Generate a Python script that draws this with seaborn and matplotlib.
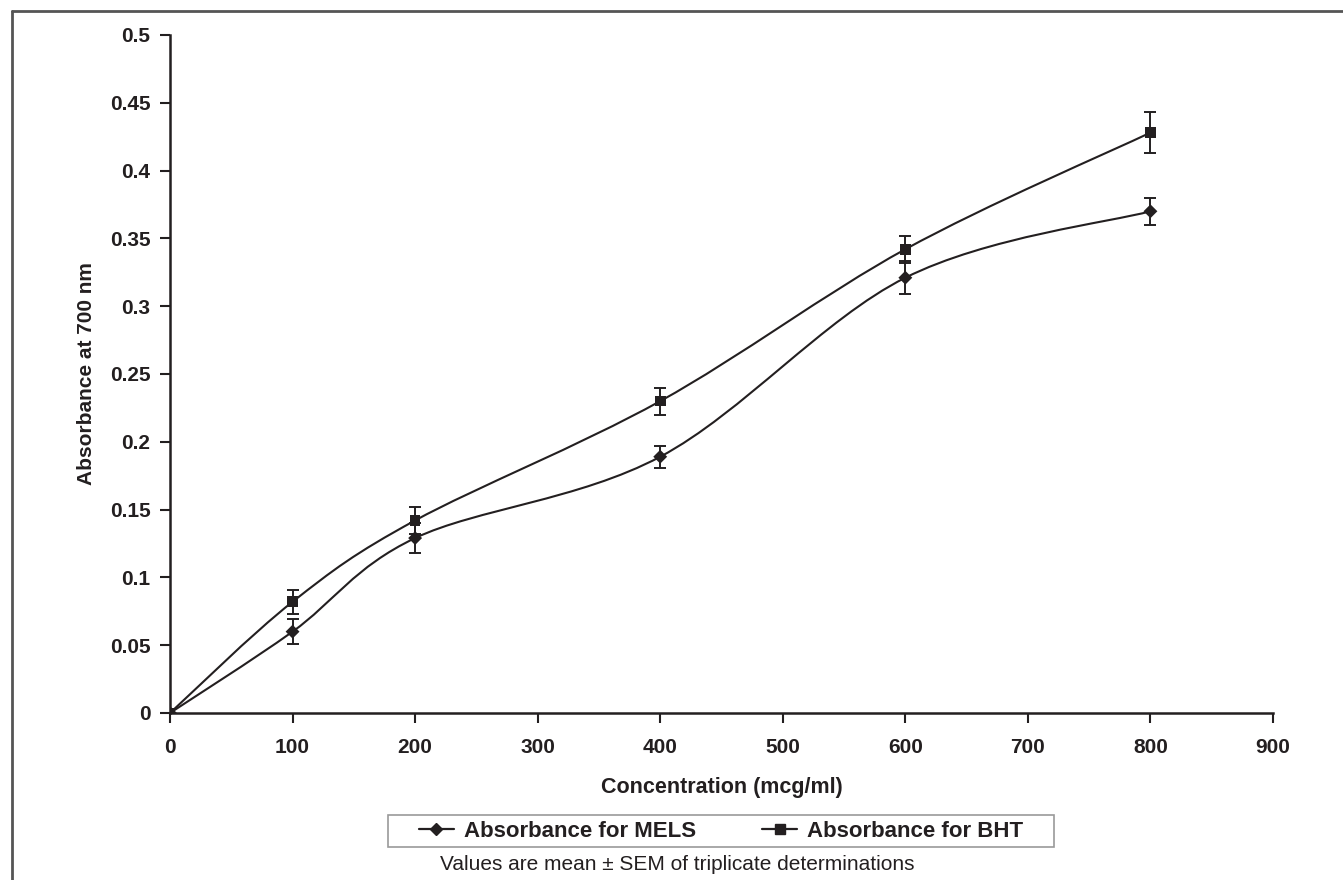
import numpy as np
import pandas as pd
import matplotlib
matplotlib.use("Agg")
import matplotlib.pyplot as plt
from matplotlib.path import Path
from matplotlib.patches import PathPatch, Rectangle
from matplotlib.lines import Line2D
import seaborn as sns

# data
conc = [0, 100, 200, 400, 600, 800]
mels = [0, 0.060, 0.129, 0.189, 0.321, 0.370]
mels_sem = [0, 0.009, 0.011, 0.008, 0.012, 0.010]
bht = [0, 0.082, 0.142, 0.230, 0.342, 0.428]
bht_sem = [0, 0.009, 0.010, 0.010, 0.010, 0.015]

x_ticks = [0, 100, 200, 300, 400, 500, 600, 700, 800, 900]
y_ticks = [0, 0.05, 0.1, 0.15, 0.2, 0.25, 0.3, 0.35, 0.4, 0.45, 0.5]
y_labels = ["0", "0.05", "0.1", "0.15", "0.2", "0.25", "0.3", "0.35", "0.4", "0.45", "0.5"]

sns.set_style("ticks")
plt.rcParams["font.family"] = ["Liberation Sans", "DejaVu Sans"]

INK = "#231f20"
W, H = 1343, 880

df = pd.DataFrame({"conc": conc, "MELS": mels, "BHT": bht})


def smooth_path(xs, ys):
    # Excel-style smoothed line: bezier segments through the points
    pts = np.column_stack([xs, ys]).astype(float)
    n = len(pts)
    verts = [pts[0]]
    codes = [Path.MOVETO]
    for i in range(n - 1):
        p0 = pts[i - 1] if i > 0 else pts[i]
        p1 = pts[i]
        p2 = pts[i + 1]
        p3 = pts[i + 2] if i + 2 < n else pts[i + 1]
        c1 = p1 + (p2 - p0) / 6.0
        c2 = p2 - (p3 - p1) / 6.0
        verts += [c1, c2, p2]
        codes += [Path.CURVE4] * 3
    return Path(verts, codes)


fig = plt.figure(figsize=(W / 100, H / 100), dpi=100)
ax = fig.add_axes([170 / W, 1 - 713 / H, (1273 - 170) / W, (713 - 35) / H])

for col in ["MELS", "BHT"]:
    ax.add_patch(PathPatch(smooth_path(df["conc"], df[col]), facecolor="none",
                           edgecolor=INK, lw=1.5, zorder=2))

ax.errorbar(conc, mels, yerr=mels_sem, fmt="none", ecolor=INK,
            elinewidth=1.4, capsize=4, capthick=1.4, zorder=3)
ax.errorbar(conc, bht, yerr=bht_sem, fmt="none", ecolor=INK,
            elinewidth=1.4, capsize=4, capthick=1.4, zorder=3)
sns.scatterplot(data=df, x="conc", y="MELS", marker="D", s=50, color=INK,
                edgecolor="none", ax=ax, zorder=4)
sns.scatterplot(data=df, x="conc", y="BHT", marker="s", s=60, color=INK,
                edgecolor="none", ax=ax, zorder=4)

ax.set_xlim(0, 900)
ax.set_ylim(0, 0.5)
ax.set_xticks(x_ticks)
ax.set_xticklabels([str(t) for t in x_ticks])
ax.set_yticks(y_ticks)
ax.set_yticklabels(y_labels)
ax.tick_params(axis="both", direction="out", length=7, width=1.5, color=INK,
               labelsize=15, labelcolor=INK)
ax.tick_params(axis="x", pad=11)
ax.tick_params(axis="y", pad=7)
for lab in ax.get_xticklabels() + ax.get_yticklabels():
    lab.set_fontweight("bold")
for s in ["top", "right"]:
    ax.spines[s].set_visible(False)
for s in ["left", "bottom"]:
    ax.spines[s].set_linewidth(1.8)
    ax.spines[s].set_color(INK)

ax.set_xlabel("Concentration (mcg/ml)", fontsize=15.5, fontweight="bold", color=INK)
ax.set_ylabel("Absorbance at 700 nm", fontsize=15, fontweight="bold", color=INK)
ax.xaxis.label.set_va("center")
ax.yaxis.label.set_va("center")
ax.yaxis.label.set_ha("center")
ax.xaxis.set_label_coords(0.5, (713 - 787) / (713 - 35))
ax.yaxis.set_label_coords((86 - 170) / (1273 - 170), 0.5)

# legend box drawn as a plain rectangle, entries centred inside it
box_l, box_r, box_t, box_b = 388, 1054, 815, 847
fig.add_artist(Rectangle((box_l / W, 1 - box_b / H), (box_r - box_l) / W,
                         (box_b - box_t) / H, transform=fig.transFigure,
                         facecolor="white", edgecolor="#9a9a9a", lw=1.2))
handles = [
    Line2D([], [], color=INK, lw=1.6, marker="D", markersize=6),
    Line2D([], [], color=INK, lw=1.6, marker="s", markersize=7),
]
leg = fig.legend(handles, ["Absorbance for MELS", "Absorbance for BHT"],
                 loc="center", bbox_to_anchor=((box_l + box_r) / 2 / W, 1 - 831 / H),
                 ncol=2, frameon=False, handlelength=1.55, handletextpad=0.45,
                 columnspacing=3.0, borderpad=0.2,
                 prop={"size": 16, "weight": "bold"})
for t in leg.get_texts():
    t.set_color(INK)

fig.text(440 / W, 1 - 864 / H, "Values are mean \u00b1 SEM of triplicate determinations",
         fontsize=15, color=INK, ha="left", va="center")

# outer frame (only top and left edges are visible in the reference)
fig.add_artist(Line2D([11.5 / W, 1.0], [1 - 11.5 / H, 1 - 11.5 / H],
                      transform=fig.transFigure, color="#555555", lw=2.0))
fig.add_artist(Line2D([11.5 / W, 11.5 / W], [0.0, 1 - 11.5 / H],
                      transform=fig.transFigure, color="#555555", lw=2.0))

fig.savefig("out.png", dpi=100)
